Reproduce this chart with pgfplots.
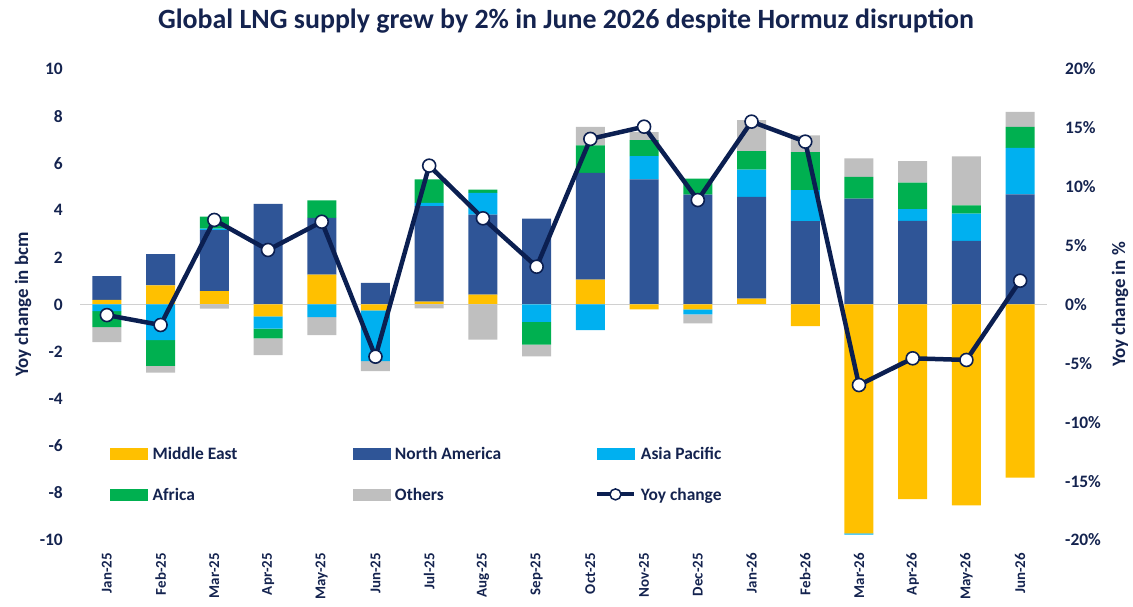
\documentclass[border=0pt]{standalone}
\usepackage{fontspec}
\setmainfont{Carlito}
\usepackage{pgfplots}
\usepackage{pgfplotstable}
\pgfplotsset{compat=1.18}

\definecolor{cME}{HTML}{FFC000}
\definecolor{cNA}{HTML}{2F5597}
\definecolor{cAP}{HTML}{00B0F0}
\definecolor{cAF}{HTML}{00B050}
\definecolor{cOT}{HTML}{BFBFBF}
\definecolor{cLine}{HTML}{0B1F51}
\definecolor{cText}{HTML}{14234F}
\definecolor{cZero}{HTML}{D0D0D0}

% positive contributions (bcm), stacked upwards from zero
\pgfplotstableread{
x  ME    NA    AP    AF    OT
0  0.20  1.00  0     0     0
1  0.81  1.33  0     0     0
2  0.57  2.59  0.06  0.51  0
3  0     4.27  0     0     0
4  1.27  2.41  0     0.74  0
5  0     0.92  0     0     0
6  0.12  4.06  0.14  0.99  0
7  0.42  3.40  0.92  0.14  0
8  0     3.65  0     0     0
9  1.06  4.53  0     1.17  0.78
10 0     5.31  0.99  0.68  0.34
11 0     4.67  0     0.68  0
12 0.25  4.32  1.16  0.78  1.32
13 0     3.54  1.32  1.61  0.71
14 0     4.50  0     0.92  0.78
15 0     3.55  0.50  1.12  0.92
16 0     2.70  1.16  0.35  2.08
17 0     4.68  1.97  0.89  0.64
}\pos

% negative contributions (bcm), stacked downwards from zero
\pgfplotstableread{
x  ME     AP     AF     OT
0  0      -0.28  -0.68  -0.64
1  0      -1.51  -1.10  -0.28
2  0      0      0      -0.18
3  -0.50  -0.52  -0.42  -0.71
4  0      -0.54  0      -0.76
5  -0.25  -2.15  0      -0.43
6  0      0      0      -0.17
7  0      0      0      -1.49
8  0      -0.74  -0.96  -0.50
9  0      -1.09  0      0
10 -0.21  0      0      0
11 -0.21  -0.21  0      -0.38
12 0      0      0      0
13 -0.92  0      0      0
14 -9.72  -0.05  0      0
15 -8.26  0      0      0
16 -8.53  0      0      0
17 -7.35  0      0      0
}\neg

% year-on-year change of total supply (%)
\pgfplotstableread{
x  yoy
0  -0.90
1  -1.74
2  7.18
3  4.63
4  7.03
5  -4.43
6  11.79
7  7.32
8  3.21
9  14.06
10 15.10
11 8.87
12 15.53
13 13.83
14 -6.84
15 -4.57
16 -4.71
17 2.02
}\yoy

\newcommand\tickfont{\fontsize{17.5}{21}\selectfont\bfseries}
\newcommand\xtickfont{\fontsize{15}{18}\selectfont\bfseries}
\newcommand\labfont{\fontsize{19}{23}\selectfont\bfseries}

\pgfplotsset{
  base/.style={
    scale only axis, width=967bp, height=471bp,
    at={(0,0)}, anchor=south west,
    xmin=-0.5, xmax=17.5,
    axis line style={draw=none},
    major tick length=0pt,
    tick label style={inner sep=0pt, text=cText},
    label style={text=cText},
  },
  barstyle/.style={fill=#1, draw=none},
}

\begin{document}
\begin{tikzpicture}
\path[use as bounding box] (-80bp,-67bp) rectangle (1053bp,540bp);

% left axis with positive stacks
\begin{axis}[base,
  ymin=-10, ymax=10,
  ybar stacked, bar width=29bp,
  xtick={0,...,17},
  xticklabels={Jan-25,Feb-25,Mar-25,Apr-25,May-25,Jun-25,Jul-25,Aug-25,Sep-25,Oct-25,Nov-25,Dec-25,Jan-26,Feb-26,Mar-26,Apr-26,May-26,Jun-26},
  xticklabel style={rotate=90, anchor=east, font=\xtickfont},
  xticklabel shift=13bp,
  ytick={-10,-8,...,10},
  yticklabels={-10,-8,-6,-4,-2,0,2,4,6,8,10},
  ytick pos=left,
  yticklabel style={anchor=east, font=\tickfont},
  yticklabel shift=17bp,
  ylabel={Yoy change in bcm},
  ylabel style={at={(-0.0589,0.5)}, anchor=center, rotate=0, font=\labfont},
  title={Global LNG supply grew by 2\% in June 2026 despite Hormuz disruption},
  title style={at={(0.5026,1.0743)}, anchor=base, yshift=0pt, font=\fontsize{28}{33}\selectfont\bfseries, text=cText},
]
\addplot[barstyle=cME] table[x=x,y=ME]{\pos};
\addplot[barstyle=cNA] table[x=x,y=NA]{\pos};
\addplot[barstyle=cAP] table[x=x,y=AP]{\pos};
\addplot[barstyle=cAF] table[x=x,y=AF]{\pos};
\addplot[barstyle=cOT] table[x=x,y=OT]{\pos};
\end{axis}

% negative stacks on the same scale
\begin{axis}[base, hide axis,
  ymin=-10, ymax=10,
  ybar stacked, bar width=29bp,
]
\addplot[barstyle=cME] table[x=x,y=ME]{\neg};
\addplot[barstyle=cAP] table[x=x,y=AP]{\neg};
\addplot[barstyle=cAF] table[x=x,y=AF]{\neg};
\addplot[barstyle=cOT] table[x=x,y=OT]{\neg};
\draw[cZero, line width=1.5bp] (axis cs:-0.5,0) -- (axis cs:17.5,0);
\end{axis}

% right axis with the percentage line
\begin{axis}[base,
  clip=false,
  ymin=-20, ymax=20,
  xtick=\empty,
  ytick={-20,-15,...,20},
  yticklabels={-20\%,-15\%,-10\%,-5\%,0\%,5\%,10\%,15\%,20\%},
  ytick pos=right, yticklabel pos=right,
  yticklabel style={anchor=west, font=\tickfont},
  yticklabel shift=18bp,
  ylabel={Yoy change in \%},
  ylabel style={at={(1.0755,0.5)}, anchor=center, rotate=0, font=\labfont},
  legend columns=3,
  legend style={at={(0.031,0.2017)}, anchor=north west, draw=none, fill=none,
    inner sep=0pt, column sep=5bp, row sep=25bp,
    nodes={inner sep=0pt, text=cText, font=\fontsize{17.5}{21}\selectfont\bfseries}},
]
\addlegendimage{legend image code/.code={\fill[cME] (0bp,-5.5bp) rectangle (37bp,5.5bp);}}
\addlegendentry{\makebox[195bp][l]{\strut Middle East}}
\addlegendimage{legend image code/.code={\fill[cNA] (0bp,-5.5bp) rectangle (37bp,5.5bp);}}
\addlegendentry{\makebox[195bp][l]{\strut North America}}
\addlegendimage{legend image code/.code={\fill[cAP] (0bp,-5.5bp) rectangle (37bp,5.5bp);}}
\addlegendentry{\makebox[195bp][l]{\strut Asia Pacific}}
\addlegendimage{legend image code/.code={\fill[cAF] (0bp,-5.5bp) rectangle (37bp,5.5bp);}}
\addlegendentry{\makebox[195bp][l]{\strut Africa}}
\addlegendimage{legend image code/.code={\fill[cOT] (0bp,-5.5bp) rectangle (37bp,5.5bp);}}
\addlegendentry{\makebox[195bp][l]{\strut Others}}
\addplot[cLine, line width=4.5bp, mark=*, mark size=6.5bp,
  mark options={fill=white, draw=cLine, line width=1.6bp},
  legend image code/.code={%
    \draw[cLine, line width=4bp] (0bp,0bp) -- (37bp,0bp);
    \draw[cLine, fill=white, line width=1.5bp] (18.5bp,0bp) circle (5.5bp);}]
  table[x=x,y=yoy]{\yoy};
\addlegendentry{\makebox[195bp][l]{\strut Yoy change}}
\end{axis}
\end{tikzpicture}
\end{document}
